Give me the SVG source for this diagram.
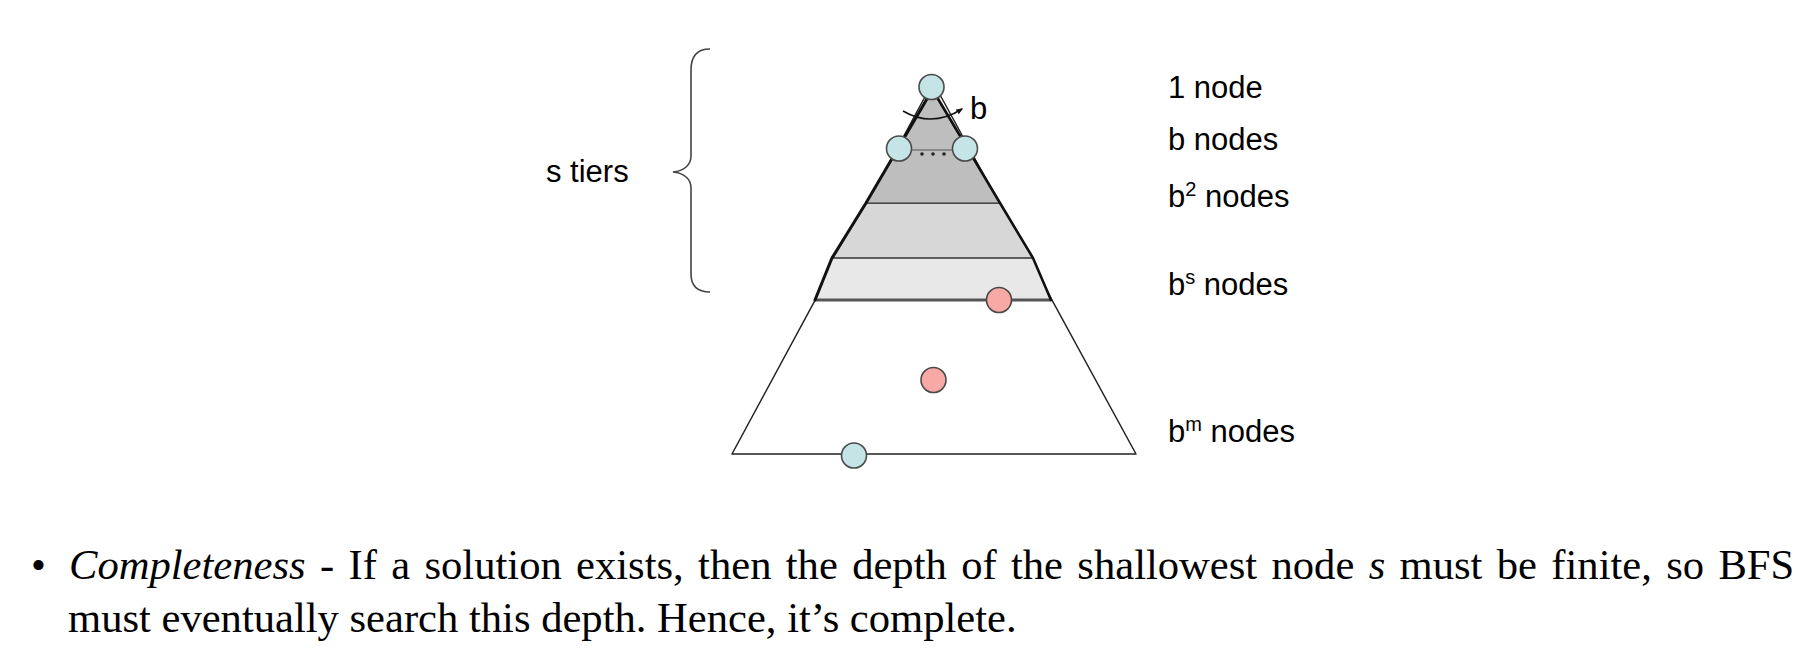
<svg xmlns="http://www.w3.org/2000/svg" width="1799" height="656" viewBox="0 0 1799 656">
<style>
.lbl{font-family:"Liberation Sans",Arial,sans-serif;font-size:31px;fill:#000}
.sup{font-size:20px}
.body{font-family:"Liberation Serif","Times New Roman",serif;font-size:42.6px;fill:#000}
.it{font-style:italic}
.blue{fill:#c4e4e6;stroke:#4a4a4a;stroke-width:1.6}
.red{fill:#f8a8a5;stroke:#4a4a4a;stroke-width:1.6}
.edge{fill:none;stroke:#111;stroke-linecap:round}
</style>
<defs>
<marker id="ah" viewBox="0 0 10 10" refX="8" refY="5" markerWidth="7" markerHeight="7" orient="auto" markerUnits="userSpaceOnUse">
<path d="M0,1 L10,5 L0,9 Z" fill="#111"/>
</marker>
</defs>
<rect width="1799" height="656" fill="#fff"/>

<g id="pyramid">
<polygon points="933,82 732,454 1136,454" fill="#fff" stroke="#222" stroke-width="1.5" stroke-linejoin="round"/>
<polygon id="tier-s" points="831,258 1034,258 1051,300 815,300" fill="#e8e8e8"/>
<line x1="815" y1="300" x2="1051" y2="300" stroke="#555" stroke-width="3"/>
<polygon id="tier-2" points="866,203 1000,203 1033,258 833,258" fill="#d7d7d7" stroke="#333" stroke-width="1.3" stroke-linejoin="round"/>
<polygon id="tier-1" points="932,90 1000,203 866,203" fill="#bebebe" stroke="#333" stroke-width="1.2" stroke-linejoin="round"/>
<line x1="899" y1="150" x2="965" y2="150" stroke="#777" stroke-width="1.5"/>
<path class="edge" d="M931,92 L866,203 L832,258 L815,300" stroke-width="3"/>
<path class="edge" d="M934,92 L1000,203 L1033,258 L1051,300" stroke-width="2.6"/>
</g>

<g id="brace">
<path d="M710,49 C697,49 691,56 691,70 L691,156 C691,165 684,171 673,172 C684,173 691,179 691,188 L691,274 C691,286 697,292 710,292" fill="none" stroke="#444" stroke-width="1.6"/>
</g>

<g id="connectors">
<path d="M903,111 Q932,128 962,109" fill="none" stroke="#111" stroke-width="1.6" marker-end="url(#ah)"/>
</g>

<g id="dots" fill="#222">
<circle cx="922" cy="154" r="1.8"/>
<circle cx="933" cy="154" r="1.8"/>
<circle cx="944" cy="154" r="1.8"/>
</g>

<g id="node-root"><circle class="blue" cx="931.5" cy="87" r="12.5"/></g>
<g id="node-b-left"><circle class="blue" cx="899" cy="148.5" r="12.5"/></g>
<g id="node-b-right"><circle class="blue" cx="965" cy="148.5" r="12.5"/></g>
<g id="node-red-1"><circle class="red" cx="999" cy="300" r="12.5"/></g>
<g id="node-red-2"><circle class="red" cx="933.5" cy="380" r="12.5"/></g>
<g id="node-bottom"><circle class="blue" cx="854" cy="455.5" r="12.5"/></g>

<g id="labels">
<text class="lbl" x="970" y="119">b</text>
<text class="lbl" x="546" y="182">s tiers</text>
<text class="lbl" x="1168" y="98">1 node</text>
<text class="lbl" x="1168" y="150">b nodes</text>
<text class="lbl" x="1168" y="207">b<tspan class="sup" dy="-11">2</tspan><tspan dy="11"> nodes</tspan></text>
<text class="lbl" x="1168" y="295">b<tspan class="sup" dy="-11">s</tspan><tspan dy="11"> nodes</tspan></text>
<text class="lbl" x="1168" y="442">b<tspan class="sup" dy="-11">m</tspan><tspan dy="11"> nodes</tspan></text>
</g>

<g id="caption">
<text class="body" x="31" y="579">•</text>
<text class="body" x="69" y="579" word-spacing="3.7"><tspan class="it">Completeness</tspan> - If a solution exists, then the depth of the shallowest node <tspan class="it">s</tspan> must be finite, so BFS</text>
<text class="body" x="68" y="631.5">must eventually search this depth. Hence, it’s complete.</text>
</g>
</svg>
